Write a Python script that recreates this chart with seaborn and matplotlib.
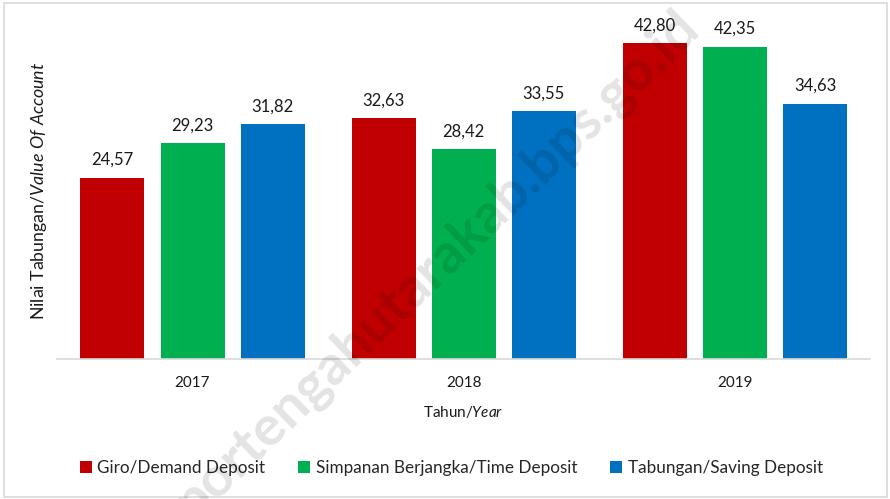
import numpy as np
import pandas as pd
import matplotlib
matplotlib.use("Agg")
import matplotlib.pyplot as plt
import seaborn as sns
from matplotlib.patches import Patch, Rectangle

# data
years = ["2017", "2018", "2019"]
series = ["Giro/Demand Deposit", "Simpanan Berjangka/Time Deposit", "Tabungan/Saving Deposit"]
giro = [24.57, 32.63, 42.80]
simpanan = [29.23, 28.42, 42.35]
tabungan = [31.82, 33.55, 34.63]
colors = ["#C00000", "#00B050", "#0070C0"]

df = pd.DataFrame({
    "Tahun": years * 3,
    "Seri": [s for s in series for _ in years],
    "Nilai": giro + simpanan + tabungan,
})

sns.set_theme(style="white")
plt.rcParams["font.family"] = ["Lato", "DejaVu Sans"]
plt.rcParams["mathtext.fontset"] = "custom"
plt.rcParams["mathtext.rm"] = "Lato"
plt.rcParams["mathtext.it"] = "Lato:italic"

fig = plt.figure(figsize=(8.9, 4.99), dpi=100)
ax = fig.add_axes([0.064, 0.2806, 0.914, 0.675])

sns.barplot(data=df, x="Tahun", y="Nilai", hue="Seri", hue_order=series,
            palette=colors, width=0.886, gap=0.2, saturation=1,
            edgecolor="none", ax=ax, legend=False)

for cont in ax.containers:
    labels = [f"{v:.2f}".replace(".", ",") for v in cont.datavalues]
    ax.bar_label(cont, labels=labels, padding=7, fontsize=12, color="#1a1a1a")

ax.set_ylim(0, 45.66)
ax.set_xlim(-0.5, 2.5)
ax.set_yticks([])
for side in ["top", "right", "left"]:
    ax.spines[side].set_visible(False)
ax.spines["bottom"].set_color("#d9d9d9")
ax.spines["bottom"].set_linewidth(1.2)
ax.tick_params(axis="x", length=0, pad=12, labelsize=11, labelcolor="#1a1a1a")

ax.set_xlabel(r"Tahun/$\it{Year}$", fontsize=11, color="#1a1a1a", labelpad=10)
ax.set_ylabel(r"Nilai Tabungan/$\it{Value\ Of\ Account}$", fontsize=12.8,
              color="#1a1a1a", labelpad=6)

handles = [Patch(facecolor=c, edgecolor="none") for c in colors]
fig.legend(handles, series, loc="center", bbox_to_anchor=(0.507, 0.062), ncol=3,
           frameon=False, fontsize=12.3, handlelength=0.7, handleheight=0.75,
           handletextpad=0.35, columnspacing=1.9)

# faint watermark
fig.text(0.49, 0.47, "portengahutarakab.bps.go.id", rotation=44,
         ha="center", va="center", fontsize=40, fontweight="bold",
         color="black", alpha=0.11, zorder=10)

fig.patches.append(Rectangle((0.004, 0.004), 0.993, 0.99, transform=fig.transFigure,
                             fill=False, edgecolor="#d9d9d9", linewidth=1.2))

fig.savefig("out.png", dpi=100)
